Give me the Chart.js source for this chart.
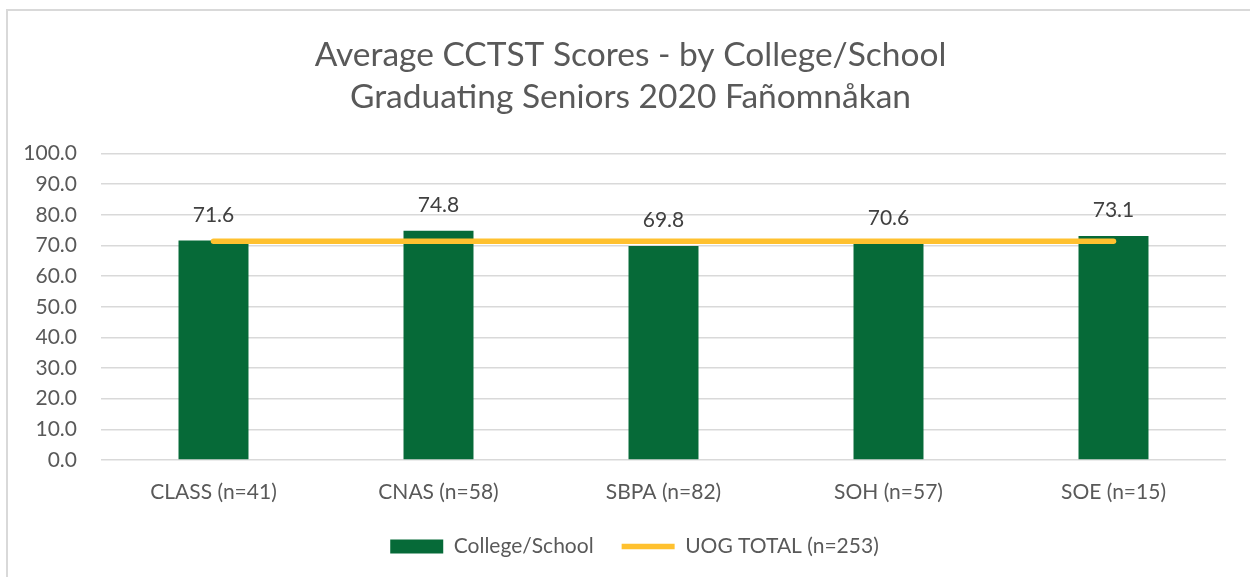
<!DOCTYPE html>
<html>
<head>
<meta charset="utf-8">
<script src="https://cdn.jsdelivr.net/npm/chart.js@4"></script>
<style>
  html, body { margin: 0; padding: 0; background: #ffffff; overflow: hidden; }
  #frame { position: absolute; left: 6px; top: 9px; width: 1300px; height: 650px;
           border-left: 2px solid #d9d9d9; border-top: 2px solid #d9d9d9; box-sizing: border-box; }
  #wrap { position: absolute; left: 0; top: 0; width: 1250px; height: 577px; }
</style>
</head>
<body>
<div id="frame"></div>
<div id="wrap"><canvas id="c" width="1250" height="577"></canvas></div>
<script>
const titleLines = ['Average CCTST Scores - by College/School', 'Graduating Seniors 2020 Fañomnåkan'];
const categories = ['CLASS (n=41)', 'CNAS (n=58)', 'SBPA (n=82)', 'SOH (n=57)', 'SOE (n=15)'];
const collegeScores = [71.6, 74.8, 69.8, 70.6, 73.1];
const uogTotal = [71.4, 71.4, 71.4, 71.4, 71.4];
const seriesNames = ['College/School', 'UOG TOTAL (n=253)'];
const yMin = 0, yMax = 100, yStep = 10;

const FONT = 'Lato, "Open Sans", sans-serif';
const GREEN = '#066a38';
const GOLD = '#ffc12f';

const barLabels = {
  id: 'barLabels',
  afterDatasetsDraw(chart) {
    const meta = chart.getDatasetMeta(0);
    const ctx = chart.ctx;
    ctx.save();
    ctx.font = '21px ' + FONT;
    ctx.fillStyle = '#404040';
    ctx.textAlign = 'center';
    ctx.textBaseline = 'middle';
    meta.data.forEach((el, i) => {
      ctx.fillText(collegeScores[i].toFixed(1), el.x, el.y - 25.5);
    });
    ctx.restore();
  }
};

const nudge = {
  id: 'nudge',
  afterLayout(chart) {
    const lg = chart.legend, tt = chart.titleBlock;
    if (lg) { lg.left += 18.5; lg.right += 18.5; lg.top -= 10; lg.bottom -= 10; }
    if (tt) { tt.left += 14.5; tt.right += 14.5; }
  }
};

new Chart(document.getElementById('c'), {
  data: {
    labels: categories,
    datasets: [
      {
        type: 'bar',
        label: seriesNames[0],
        data: collegeScores,
        backgroundColor: GREEN,
        borderWidth: 0,
        barPercentage: 0.311,
        categoryPercentage: 1,
        pointStyle: 'rect',
        order: 1
      },
      {
        type: 'line',
        label: seriesNames[1],
        data: uogTotal,
        borderColor: GOLD,
        backgroundColor: GOLD,
        borderWidth: 5.5,
        borderCapStyle: 'round',
        pointRadius: 0,
        pointHoverRadius: 0,
        pointStyle: 'line',
        fill: false,
        order: 0
      }
    ]
  },
  options: {
    responsive: false,
    animation: false,
    layout: { padding: { left: 6, right: 24, top: 0, bottom: 0 } },
    plugins: {
      title: {
        display: true,
        text: titleLines,
        color: '#595959',
        font: { family: FONT, size: 33.5, weight: 'normal', lineHeight: '42px' },
        padding: { top: 34, bottom: 35.5 }
      },
      legend: {
        position: 'bottom',
        labels: {
          usePointStyle: true,
          pointStyleWidth: 53,
          boxHeight: 14,
          padding: 28,
          color: '#595959',
          font: { family: FONT, size: 21 },
          sort: (a, b) => a.datasetIndex - b.datasetIndex
        }
      },
      tooltip: { enabled: false }
    },
    scales: {
      x: {
        grid: { display: false, drawTicks: false },
        border: { display: false },
        afterFit(scale) {
          const lh = scale.chart.legend ? scale.chart.legend.height : 60;
          scale.height = 117 - lh;
        },
        ticks: { color: '#595959', font: { family: FONT, size: 21 }, padding: 19.4 }
      },
      y: {
        min: yMin,
        max: yMax,
        afterFit(scale) { scale.width = 95; },
        ticks: {
          stepSize: yStep,
          color: '#595959',
          font: { family: FONT, size: 21 },
          padding: 24,
          callback: v => Number(v).toFixed(1)
        },
        grid: { color: '#d9d9d9', lineWidth: 1.5, drawTicks: false },
        border: { display: false }
      }
    }
  },
  plugins: [barLabels, nudge]
});
</script>
</body>
</html>
